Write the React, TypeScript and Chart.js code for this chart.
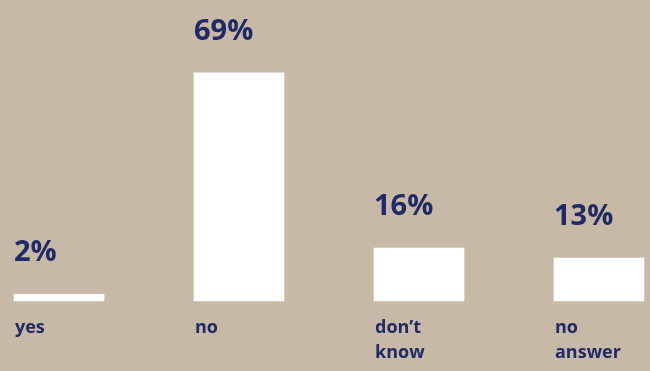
import React, { useEffect, useRef } from "react";
import { Chart, registerables } from "chart.js";

Chart.register(...registerables);

const categories: string[][] = [["yes"], ["no"], ["don’t", "know"], ["no", "answer"]];
const values: number[] = [2, 69, 16, 13];
const valueLabels: string[] = ["2%", "69%", "16%", "13%"];

const BG = "#c8b8a6";
const NAVY = "#1f2a66";
const FONT = "'Open Sans', 'DejaVu Sans', sans-serif";

const labelPlugin = {
  id: "customLabels",
  afterDatasetsDraw(chart: any) {
    const ctx = chart.ctx;
    const meta = chart.getDatasetMeta(0);
    const bottom = chart.chartArea.bottom;
    ctx.save();
    ctx.fillStyle = NAVY;
    ctx.textAlign = "left";
    ctx.textBaseline = "alphabetic";
    meta.data.forEach((el: any, i: number) => {
      const left = el.x - el.width / 2;
      ctx.font = `bold 29px ${FONT}`;
      ctx.fillText(valueLabels[i], left, el.y - 33);
      ctx.font = `bold 18px ${FONT}`;
      const lines = chart.data.labels[i] as string[];
      lines.forEach((line: string, j: number) => {
        ctx.fillText(line, left + 1, bottom + 32 + j * 25);
      });
    });
    ctx.restore();
  },
};

export default function App() {
  const canvasRef = useRef<HTMLCanvasElement | null>(null);

  useEffect(() => {
    if (!canvasRef.current) return;
    const chart = new Chart(canvasRef.current, {
      type: "bar",
      data: {
        labels: categories,
        datasets: [
          {
            data: values,
            backgroundColor: "#ffffff",
            borderWidth: 0,
            barThickness: 90,
            clip: false as any,
          },
        ],
      },
      options: {
        responsive: false,
        animation: false,
        layout: { padding: { left: 59, right: 51, top: 0, bottom: 70 } },
        plugins: {
          legend: { display: false },
          tooltip: { enabled: false },
          title: { display: false },
        },
        scales: {
          x: { type: "category", offset: false, display: false, grid: { display: false } },
          y: { min: 0, max: 91, display: false, grid: { display: false } },
        },
      },
      plugins: [labelPlugin],
    });
    return () => chart.destroy();
  }, []);

  return (
    <div
      style={{
        position: "fixed",
        left: 0,
        top: 0,
        width: 650,
        height: 371,
        background: BG,
      }}
    >
      <canvas ref={canvasRef} width={650} height={371} style={{ display: "block" }} />
    </div>
  );
}
